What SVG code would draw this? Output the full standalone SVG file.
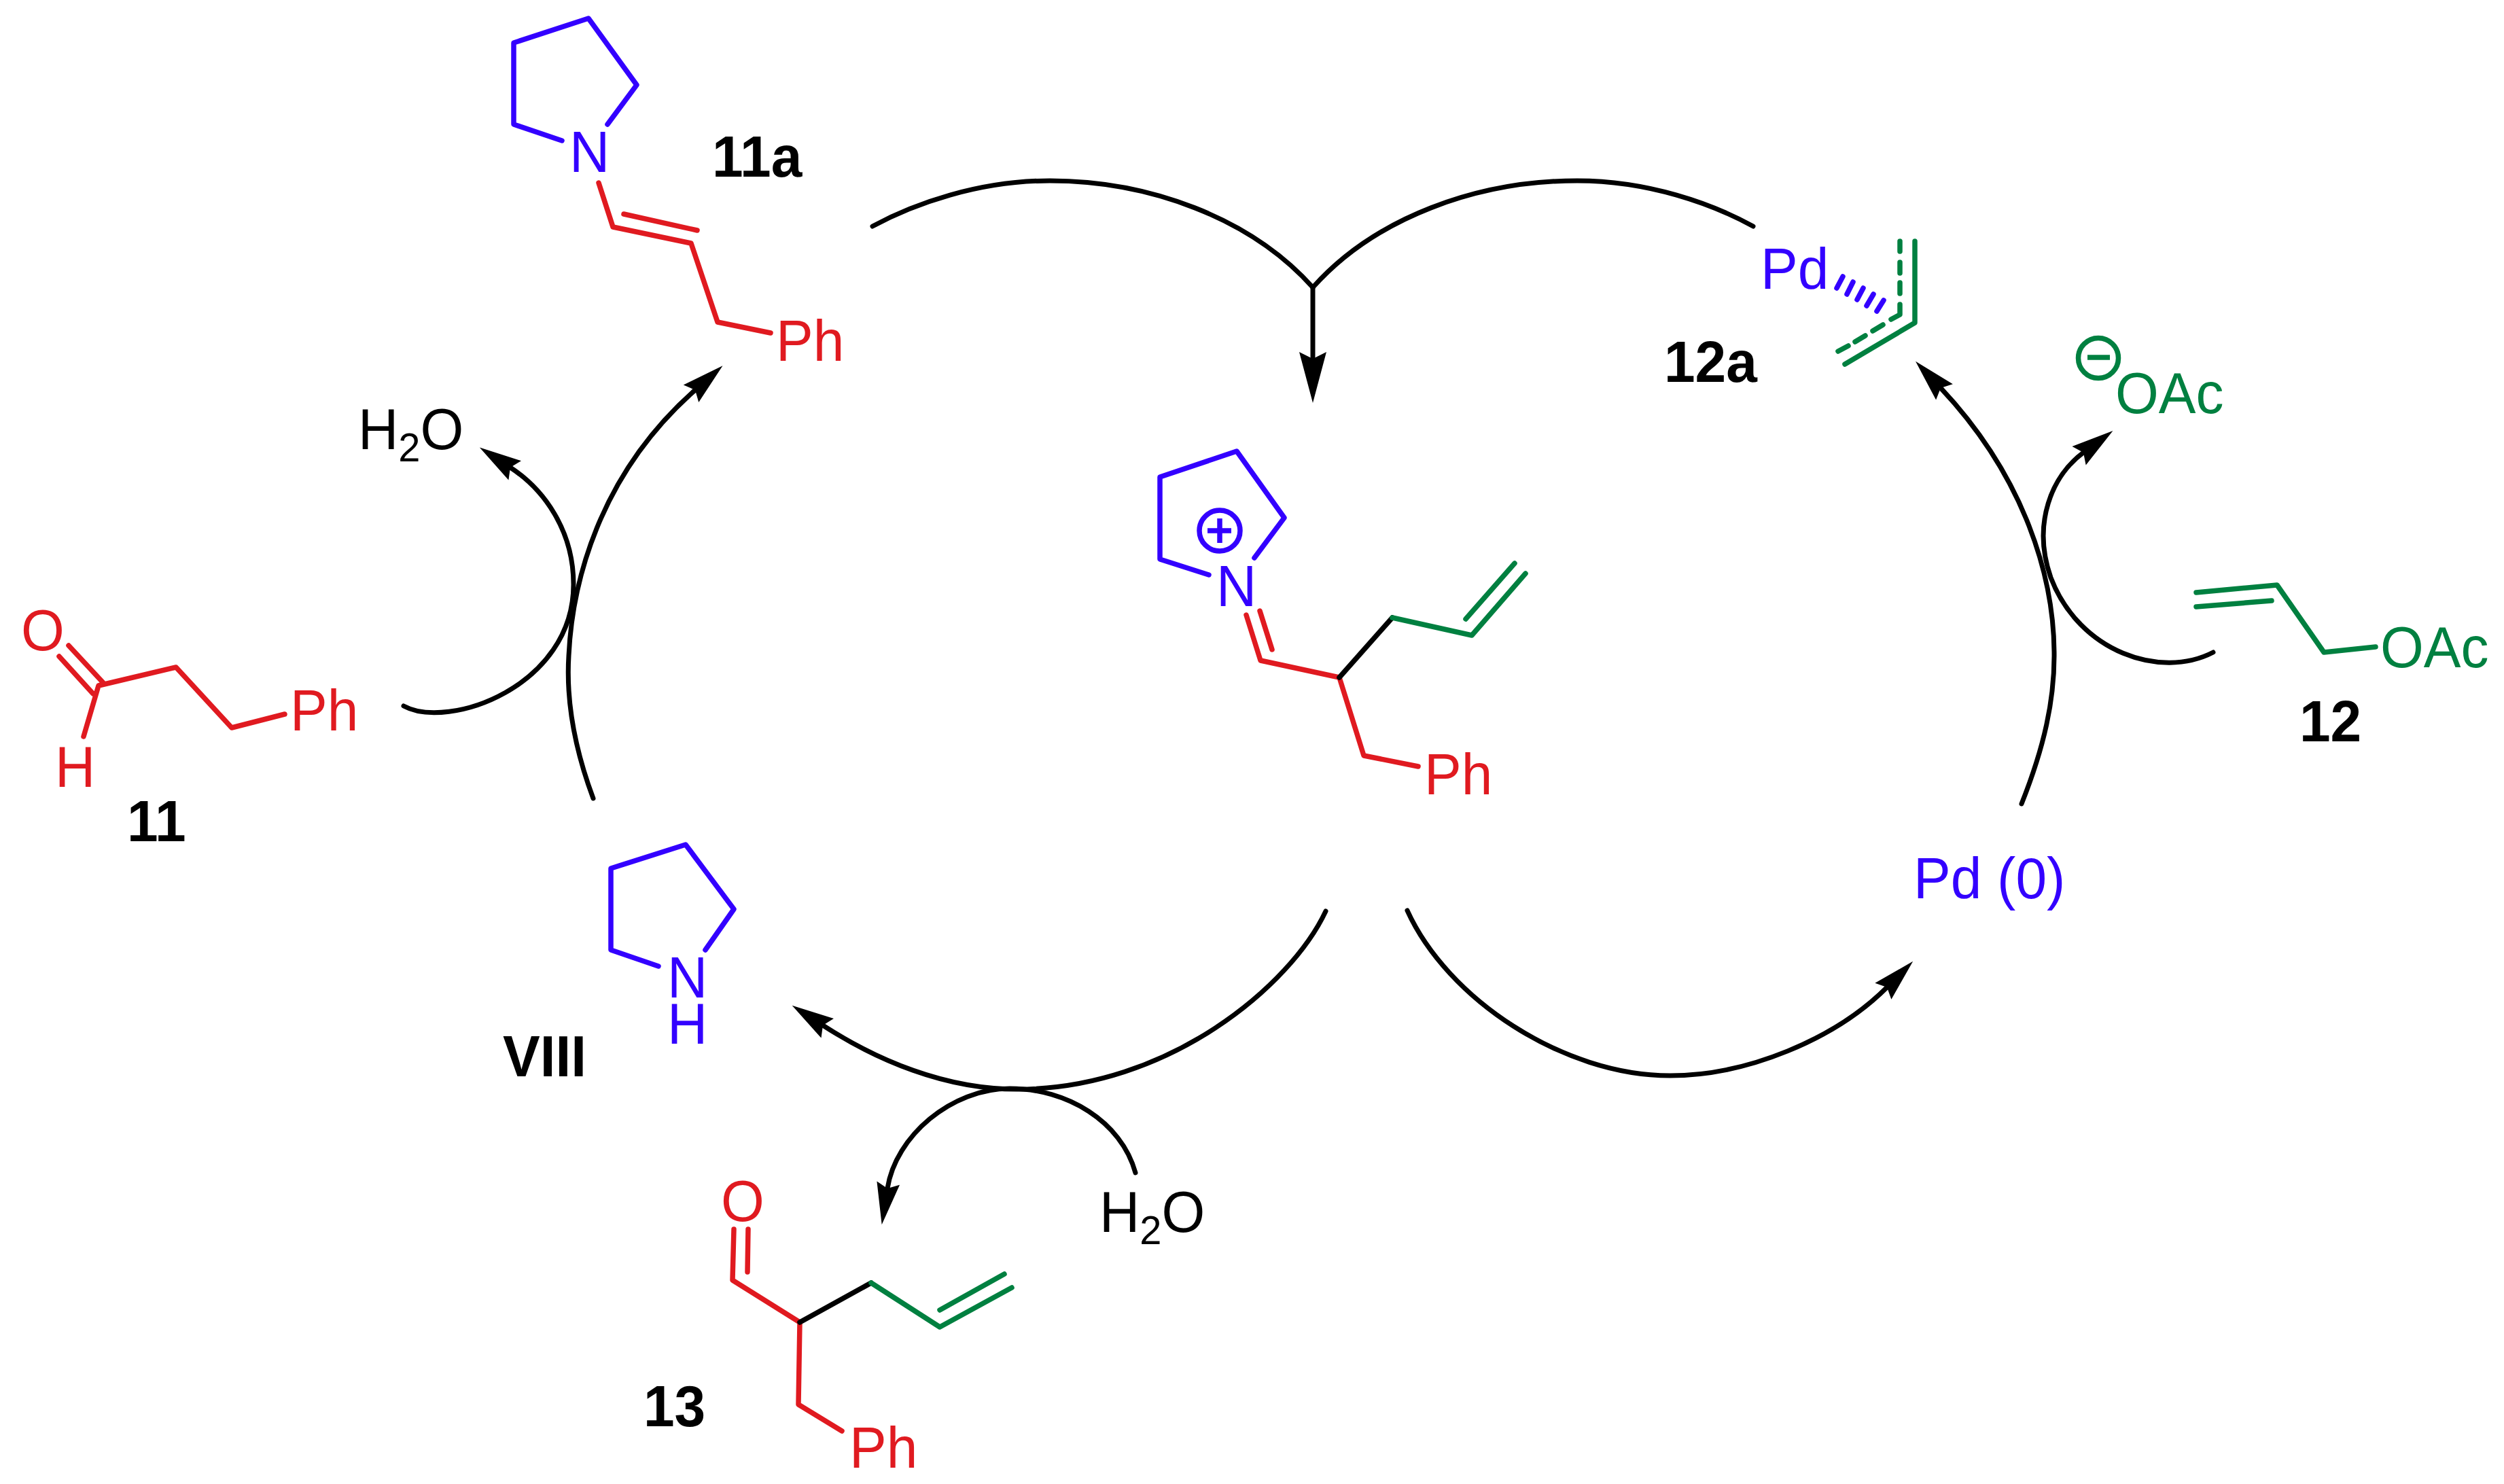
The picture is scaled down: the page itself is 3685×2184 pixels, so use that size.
<svg xmlns="http://www.w3.org/2000/svg" width="3685" height="2184" viewBox="0 0 3685 2184">
<style>
text{font-family:"Liberation Sans",Arial,sans-serif;font-size:85px}
.lab{font-weight:bold;fill:#000}
.r{fill:#e01a20}.bl{fill:#3300ff}.g{fill:#008040}.k{fill:#000}
path,line,circle{fill:none;stroke-width:7.5;stroke-linecap:round;stroke-linejoin:round}
.sr{stroke:#e01a20}.sb{stroke:#3300ff}.sg{stroke:#008040}.sk{stroke:#000}
.arc{stroke:#000;stroke-width:7}
.sub{font-size:60px}
</style>
<defs>
<marker id="ah" markerUnits="userSpaceOnUse" markerWidth="70" markerHeight="40" refX="8" refY="20" orient="auto" overflow="visible"><polygon points="0,3 62,20 0,37 8,20" fill="#000"/></marker>
<marker id="ahl" markerUnits="userSpaceOnUse" markerWidth="85" markerHeight="50" refX="10" refY="25" orient="auto" overflow="visible"><polygon points="0,5 75,25 0,45 10,25" fill="#000"/></marker>
</defs>
<rect width="3685" height="2184" fill="#fff"/>
<g id="connectors">
<path class="arc" d="M1284,333C1345,300 1440,266 1545,266C1690,266 1840,320 1932,423"/>
<path class="arc" d="M2580,333C2520,300 2426,266 2321,266C2174,266 2024,320 1932,423"/>
<path class="arc" d="M1932,423V528" marker-end="url(#ahl)"/>
<path class="arc" d="M1951,1341C1900,1450 1720,1603 1497,1603C1390,1603 1290,1560 1211,1509" marker-end="url(#ah)"/>
<path class="arc" d="M1671,1726C1650,1650 1570,1602 1486,1602C1400,1602 1318,1672 1306,1749" marker-end="url(#ah)"/>
<path class="arc" d="M2071,1340C2130,1470 2300,1583 2458,1583C2570,1583 2700,1530 2777,1453" marker-end="url(#ah)"/>
<path class="arc" d="M873,1175C845,1100 833,1030 837,965C842,860 880,700 1023,574" marker-end="url(#ah)"/>
<path class="arc" d="M594,1039C660,1075 844,1010 844,860C844,780 800,720 751,688" marker-end="url(#ah)"/>
<path class="arc" d="M2975,1183C3008,1100 3024,1030 3023,959C3022,850 2981,704 2856,571" marker-end="url(#ah)"/>
<path class="arc" d="M3257,960C3180,1000 3060,960 3018,850C2990,770 3020,700 3066,666" marker-end="url(#ah)"/>
</g>
<g id="n11a">
<path class="sb" d="M894,183L937,125L866,27L756,63V183L827,207"/>
<text class="bl" transform="translate(838,253) scale(.965,1)">N</text>
<path class="sr" d="M881,269L902,334L1017,358L1056,474L1134,490M918,315L1026,339"/>
<text class="r" transform="translate(1142,531) scale(.965,1)">Ph</text>
<text class="lab" transform="translate(1048,260) scale(.965,1)">11a</text>
</g>
<g id="water-top"><text class="k" transform="translate(527,661) scale(.965,1)">H<tspan class="sub" dy="18">2</tspan><tspan dy="-18">O</tspan></text></g>
<g id="n11">
<text class="r" transform="translate(31,957) scale(.965,1)">O</text>
<path class="sr" d="M87,966L137,1021M101,950L153,1006M123,1084L145,1009L259,982L341,1071L419,1051"/>
<text class="r" transform="translate(427,1075) scale(.965,1)">Ph</text>
<text class="r" transform="translate(81,1158) scale(.965,1)">H</text>
<text class="lab" transform="translate(187,1238) scale(.965,1)">11</text>
</g>
<g id="n12a">
<text class="bl" transform="translate(2591,425) scale(.965,1)">Pd</text>
<path class="sb" d="M2712,407L2703,424M2727,415L2718,433M2742,424L2733,441M2757,433L2747,450M2772,442L2762,458"/>
<path class="sg" d="M2818,355V475L2715,536"/>
<path class="sg" d="M2796,355V370M2796,386V402M2796,416V432M2796,448V463L2783,470M2771,478L2756,487M2745,494L2730,503M2720,509L2705,517"/>
<text class="lab" transform="translate(2449,562) scale(.965,1)">12a</text>
</g>
<g id="acetate">
<circle class="sg" cx="3088" cy="527" r="29.5"/>
<line class="sg" x1="3072" y1="526" x2="3105" y2="526" style="stroke-linecap:butt"/>
<text class="g" transform="translate(3113,608) scale(.965,1)">OAc</text>
</g>
<g id="n12">
<path class="sg" d="M3232,872L3351,861L3420,960L3496,952M3232,893L3343,884"/>
<text class="g" transform="translate(3503,982) scale(.965,1)">OAc</text>
<text class="lab" transform="translate(3384,1091) scale(.965,1)">12</text>
</g>
<g id="pd0"><text class="bl" transform="translate(2816,1322) scale(.965,1)">Pd (0)</text></g>
<g id="iminium">
<path class="sb" d="M1846,821L1890,762L1820,664L1707,702V823L1779,846"/>
<circle class="sb" cx="1795" cy="781" r="30"/>
<path class="sb" d="M1777,781H1812M1795,763V799" style="stroke-linecap:butt"/>
<text class="bl" transform="translate(1790,892) scale(.965,1)">N</text>
<path class="sr" d="M1834,905L1855,972L1971,997L2007,1112L2087,1128M1854,899L1872,956"/>
<path class="sk" d="M1971,997L2049,909"/>
<path class="sg" d="M2049,909L2166,935L2245,844M2157,911L2229,829"/>
<text class="r" transform="translate(2096,1169) scale(.965,1)">Ph</text>
</g>
<g id="nVIII">
<path class="sb" d="M1038,1398L1080,1338L1009,1243L899,1278V1398L969,1422"/>
<text class="bl" transform="translate(982,1468) scale(.965,1)"><tspan x="0" y="0">N</tspan><tspan x="0" y="68">H</tspan></text>
<text class="lab" transform="translate(740,1584) scale(.965,1)">VIII</text>
</g>
<g id="water-bottom"><text class="k" transform="translate(1618,1813) scale(.965,1)">H<tspan class="sub" dy="18">2</tspan><tspan dy="-18">O</tspan></text></g>
<g id="n13">
<text class="r" transform="translate(1061,1797) scale(.965,1)">O</text>
<path class="sr" d="M1101,1809L1100,1872M1080,1809L1078,1884L1177,1946L1175,2067L1239,2106"/>
<path class="sk" d="M1177,1946L1282,1888"/>
<path class="sg" d="M1282,1888L1383,1953L1489,1895M1383,1928L1478,1875"/>
<text class="r" transform="translate(1250,2160) scale(.965,1)">Ph</text>
<text class="lab" transform="translate(947,2099) scale(.965,1)">13</text>
</g>
</svg>
